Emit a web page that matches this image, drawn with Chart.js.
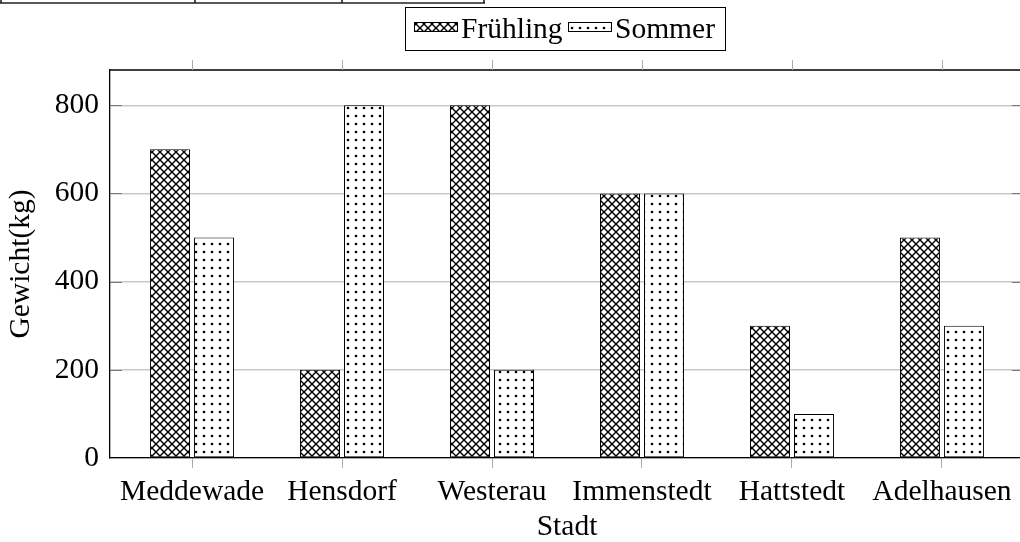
<!DOCTYPE html>
<html><head><meta charset="utf-8">
<script src="https://cdn.jsdelivr.net/npm/chart.js@4"></script>
<style>html,body{margin:0;padding:0;background:#fff;overflow:hidden}
#wrap{position:relative;width:1030px;height:542px}</style>
</head><body><div id="wrap"><canvas id="c"></canvas></div>
<script>
const categories = ['Meddewade','Hensdorf','Westerau','Immenstedt','Hattstedt','Adelhausen'];
const fruehling = [700,200,800,600,300,500];
const sommer = [500,800,200,600,100,300];
const yTicks = [0,200,400,600,800];
const seriesNames = ['Frühling','Sommer'];
const xTitle = 'Stadt';
const yTitle = 'Gewicht(kg)';

const FONT = "'Liberation Serif','DejaVu Serif',serif";
Chart.defaults.font.family = FONT;
Chart.defaults.font.size = 29.5;
Chart.defaults.color = '#000';

function makeCross(){
  const T=8, c=document.createElement('canvas'); c.width=T; c.height=T;
  const g=c.getContext('2d'); g.fillStyle='#fff'; g.fillRect(0,0,T,T);
  g.strokeStyle='#000'; g.lineWidth=1.4; g.beginPath();
  g.moveTo(-1,-1); g.lineTo(T+1,T+1); g.moveTo(-1,T+1); g.lineTo(T+1,-1); g.stroke();
  return g.createPattern(c,'repeat');
}
function makeDots(){
  const T=8, c=document.createElement('canvas'); c.width=T; c.height=T;
  const g=c.getContext('2d'); g.fillStyle='#fff'; g.fillRect(0,0,T,T);
  g.fillStyle='#000'; g.beginPath(); g.arc(T/2,T/2,1.3,0,Math.PI*2); g.fill();
  return g.createPattern(c,'repeat');
}
const patCross = makeCross(), patDots = makeDots();

const deco = {
  id:'deco',
  afterDraw(chart){
    const ctx=chart.ctx, a=chart.chartArea, xs=chart.scales.x, ys=chart.scales.y;
    ctx.save();
    ctx.strokeStyle='#000'; ctx.lineWidth=1.3;
    ctx.beginPath(); ctx.moveTo(a.left,a.top); ctx.lineTo(a.right,a.top); ctx.stroke();
    ctx.beginPath(); ctx.moveTo(a.right,a.top); ctx.lineTo(a.right,a.bottom); ctx.stroke();
    ctx.strokeStyle='#aaa'; ctx.lineWidth=1;
    categories.forEach((_,i)=>{const x=Math.round(xs.getPixelForValue(i))+0.5;
      ctx.beginPath(); ctx.moveTo(x,a.top-10); ctx.lineTo(x,a.top); ctx.stroke();});
    ctx.strokeStyle='#777';
    yTicks.forEach(v=>{const y=Math.round(ys.getPixelForValue(v))+0.5;
      if(v===0) return;
      ctx.beginPath(); ctx.moveTo(a.left,y); ctx.lineTo(a.left+12,y); ctx.stroke();
      ctx.beginPath(); ctx.moveTo(a.right-12,y); ctx.lineTo(a.right,y); ctx.stroke();});
    ctx.strokeStyle='#222'; ctx.lineWidth=1.6;
    ctx.beginPath(); ctx.moveTo(0,3); ctx.lineTo(485,3);
    [1,195,342,484].forEach(x=>{ctx.moveTo(x,0); ctx.lineTo(x,3.5);});
    ctx.stroke();
    ctx.lineWidth=1; ctx.strokeStyle='#000';
    ctx.fillStyle='#fff'; ctx.fillRect(405.5,7.5,320,43); ctx.strokeRect(405.5,7.5,320,43);
    const items=[{x:414,pat:patCross,label:seriesNames[0]},{x:568,pat:patDots,label:seriesNames[1]}];
    ctx.font='29.5px '+FONT; ctx.textBaseline='alphabetic'; ctx.textAlign='left';
    items.forEach(it=>{
      ctx.fillStyle=it.pat; ctx.fillRect(it.x+0.5,22.5,43,9);
      ctx.strokeRect(it.x+0.5,22.5,43,9);
      ctx.fillStyle='#000'; ctx.fillText(it.label,it.x+47,38);
    });
    ctx.restore();
  }
};

new Chart(document.getElementById('c'),{
  type:'bar',
  data:{datasets:[
    {label:seriesNames[0], data:fruehling.map((v,i)=>({x:i,y:v})), backgroundColor:patCross,
     borderColor:'#000', borderWidth:1, borderSkipped:false},
    {label:seriesNames[1], data:sommer.map((v,i)=>({x:i,y:v})), backgroundColor:patDots,
     borderColor:'#000', borderWidth:1, borderSkipped:false}
  ]},
  options:{
    responsive:true, maintainAspectRatio:false, animation:false,
    categoryPercentage:88/150, barPercentage:40/44,
    layout:{padding:{top:70,right:6,bottom:0,left:0}},
    plugins:{legend:{display:false},tooltip:{enabled:false}},
    scales:{
      x:{type:'linear', min:-0.547, max:5.547, offset:false,
        afterBuildTicks:s=>{s.ticks=categories.map((_,i)=>({value:i}));},
        afterFit:s=>{s.height=84;},
        ticks:{autoSkip:false, maxRotation:0, padding:7, callback:v=>categories[Math.round(v)]},
        grid:{offset:false, drawOnChartArea:false, drawTicks:true, tickLength:10, color:'#aaa', tickColor:'#aaa'},
        border:{display:true,color:'#000',width:1.3},
        title:{display:true,text:xTitle,padding:{top:0,bottom:-3}}
      },
      y:{min:0,max:880,
        afterBuildTicks:s=>{s.ticks=yTicks.map(v=>({value:v}));},
        afterFit:s=>{s.width=110;},
        ticks:{padding:11},
        grid:{color:'#c8c8c8',lineWidth:1.5,drawTicks:false},
        border:{display:true,color:'#000',width:1.3},
        title:{display:true,text:yTitle,padding:{top:4,bottom:4}}
      }
    }
  },
  plugins:[deco]
});
</script></body></html>
